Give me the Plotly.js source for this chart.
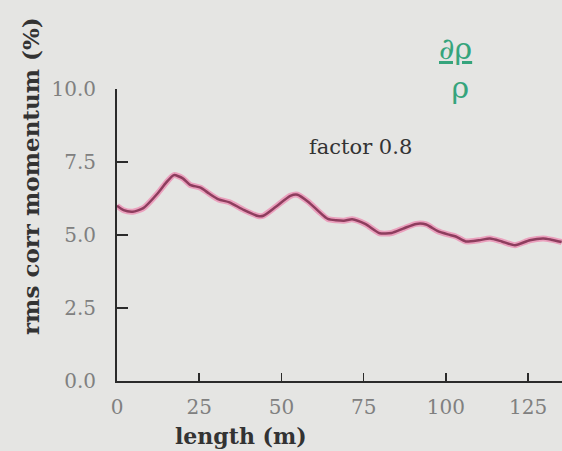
<!DOCTYPE html>
<html>
<head>
<meta charset="utf-8">
<script src="https://cdn.plot.ly/plotly-3.0.1.min.js"></script>
<style>
html,body{margin:0;padding:0;background:#e5e5e3;overflow:hidden;}
#chart{width:562px;height:451px;}
</style>
</head>
<body>
<div id="chart"></div>
<script>
// length along the line (m)
const lengthM = [0, 2, 4.8, 8, 12.4, 15, 17.3, 20, 22.2, 25.4, 28, 30.9, 34.2, 38.5, 42.9, 44.5,
  48.3, 52.7, 54.9, 58.1, 61.4, 64.1, 69, 71.5, 75.6, 79.9, 83.5, 87, 91, 94, 97.4,
  100.6, 103, 106, 110, 113.4, 117, 121, 125.5, 129.6, 132, 135.2];
// rms corr momentum (%)
const rmsCorrMomentum = [6.0, 5.85, 5.8, 5.92, 6.43, 6.8, 7.05, 6.94, 6.72, 6.62, 6.42, 6.22, 6.12, 5.86, 5.65, 5.66,
  5.97, 6.34, 6.38, 6.14, 5.8, 5.55, 5.49, 5.54, 5.37, 5.06, 5.07, 5.22, 5.38, 5.36, 5.14,
  5.02, 4.95, 4.78, 4.82, 4.88, 4.78, 4.65, 4.82, 4.88, 4.84, 4.76];
const xTicks = [0, 25, 50, 75, 100, 125];
const yTicks = [0, 2.5, 5, 7.5, 10];
const yTickLabels = ['0.0', '2.5', '5.0', '7.5', '10.0'];
const xTitle = 'length (m)';
const yTitle = 'rms corr momentum (%)';
const noteText = 'factor 0.8';
const symbolText = '<u>∂ρ</u><br> ρ';

const serif = "'DejaVu Serif', serif";
const bg = '#e5e5e3';

const traces = [
  { x: lengthM, y: rmsCorrMomentum, type: 'scatter', mode: 'lines',
    line: { color: '#eaa0bd', width: 6, shape: 'spline', smoothing: 0.6 }, hoverinfo: 'skip' },
  { x: lengthM, y: rmsCorrMomentum, type: 'scatter', mode: 'lines',
    line: { color: '#8e3d5e', width: 2.5, shape: 'spline', smoothing: 0.6 } }
];

const layout = {
  width: 562, height: 451,
  paper_bgcolor: bg, plot_bgcolor: bg,
  showlegend: false,
  margin: { l: 117, r: 0, t: 89, b: 70, pad: 0 },
  xaxis: {
    range: [0, 135.3], tickvals: xTicks, ticktext: xTicks.map(String),
    showline: true, linecolor: '#2b2b2b', linewidth: 2,
    ticks: 'inside', ticklen: 8, tickwidth: 1.5, tickcolor: '#2b2b2b',
    showgrid: false, zeroline: false, ticklabelstandoff: 7,
    tickfont: { family: serif, size: 20, color: '#808080' }
  },
  yaxis: {
    range: [0, 10], tickvals: yTicks, ticktext: yTickLabels,
    showline: true, linecolor: '#2b2b2b', linewidth: 2,
    ticks: 'inside', ticklen: 11, tickwidth: 1.5, tickcolor: '#2b2b2b',
    showgrid: false, zeroline: false, ticklabelstandoff: 15,
    tickfont: { family: serif, size: 20, color: '#808080' }
  },
  annotations: [
    { text: '<b>' + xTitle + '</b>', xref: 'paper', yref: 'paper', x: (241 - 117) / 445, y: (381 - 436) / 292,
      xanchor: 'center', yanchor: 'middle', showarrow: false,
      font: { family: serif, size: 22, color: '#333333' } },
    { text: '<b>' + yTitle + '</b>', xref: 'paper', yref: 'paper', x: (30 - 117) / 445, y: (381 - 176) / 292,
      xanchor: 'center', yanchor: 'middle', showarrow: false, textangle: -90,
      font: { family: serif, size: 23, color: '#333333' } },
    { text: noteText, xref: 'paper', yref: 'paper', x: (360 - 117) / 445, y: (381 - 147) / 292,
      xanchor: 'center', yanchor: 'middle', showarrow: false,
      font: { family: serif, size: 21, color: '#333333' } },
    { text: symbolText, xref: 'paper', yref: 'paper', x: (455 - 117) / 445, y: (381 - 68) / 292,
      xanchor: 'center', yanchor: 'middle', showarrow: false,
      font: { family: serif, size: 30, color: '#35a47c' } }
  ]
};

Plotly.newPlot('chart', traces, layout, { displayModeBar: false, staticPlot: true });
</script>
</body>
</html>
